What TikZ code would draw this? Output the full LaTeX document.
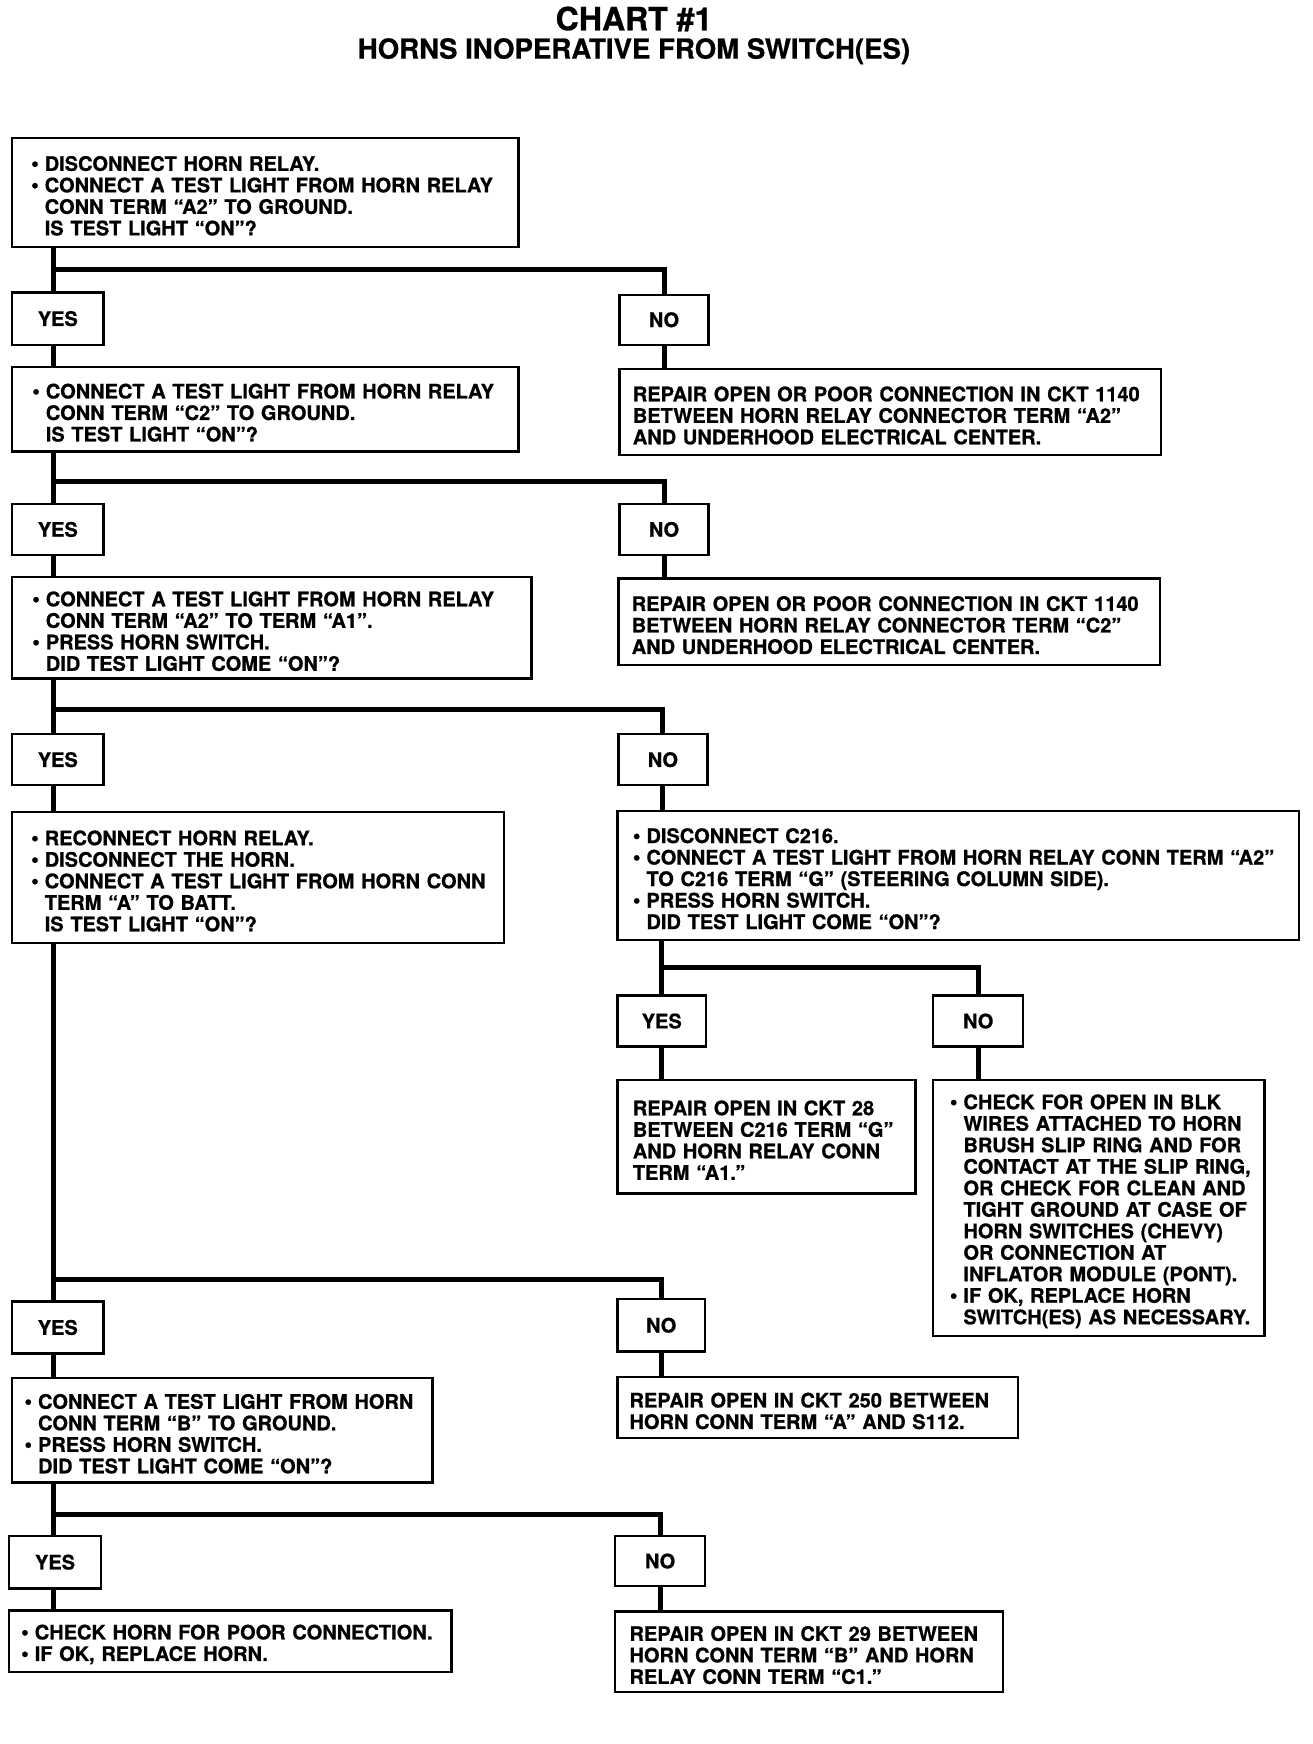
\documentclass[tikz,border=0pt]{standalone}
\usepackage{fontspec}
\setmainfont{TeX Gyre Heros}[BoldFeatures={FakeBold=0.8}]
\newcommand\upx{0.556}
\newlength\bind \setlength\bind{6.8pt}
\newcommand\bul[1]{\mbox{\makebox[\bind][l]{\raisebox{0pt}{\fontsize{11}{11}\selectfont •}}#1}}
\newcommand\ind[1]{\mbox{\hspace*{\bind}#1}}
\newcommand\lne[1]{\mbox{#1}}
\newcommand\bodyfont{\fontsize{10}{10.75}\selectfont\bfseries}
\newcommand\mkbox[7]{%
 \pgfmathsetlengthmacro\bxw{(#4-#2)*\upx pt}%
 \pgfmathsetlengthmacro\bxh{(#5-#3)*\upx pt}%
 \pgfmathsetlengthmacro\bxp{#6*\upx pt}%
 \pgfmathsetlengthmacro\bxt{(#4-#2-2*#6)*\upx pt}%
 \node[boxst, anchor=north west, minimum width=\bxw, minimum height=\bxh, inner xsep=\bxp, text width=\bxt] (#1) at (#2,#3) {\rule{0pt}{10.8pt}#7};}
\newcommand\mkyn[6]{%
 \pgfmathsetlengthmacro\bxw{(#4-#2)*\upx pt}%
 \pgfmathsetlengthmacro\bxh{(#5-#3)*\upx pt}%
 \node[ynst, anchor=north west, minimum width=\bxw, minimum height=\bxh] (#1) at (#2,#3) {#6};}
\begin{document}
\begin{tikzpicture}[x=0.556pt,y=-0.556pt,
  boxst/.style={draw, line width=1.2pt, outer sep=0pt, inner ysep=0pt, align=left, font=\bodyfont},
  ynst/.style={draw, line width=1.2pt, outer sep=0pt, inner sep=0pt, align=center, font=\bodyfont},
  conn/.style={line width=2.5pt},
  titlest/.style={inner sep=0pt, font=\fontsize{16}{16}\selectfont\bfseries},
  subst/.style={inner sep=0pt, font=\fontsize{13.8}{14}\selectfont\bfseries}]
\useasboundingbox (0,0) rectangle (1180,1568);
\fill[white] (0,0) rectangle (1180,1568);

\node[titlest] (title) at (570,17) {CHART \#1};
\node[subst] (subtitle) at (570,46) {HORNS INOPERATIVE FROM SWITCH(ES)};

% level 1
\mkbox{box1}{11}{124}{466}{222}{17}{\bul{DISCONNECT HORN RELAY.}\\\bul{CONNECT A TEST LIGHT FROM HORN RELAY}\\\ind{CONN TERM “A2” TO GROUND.}\\\ind{IS TEST LIGHT “ON”?}}
\mkyn{yes1}{11}{263}{93}{310}{YES}
\mkyn{no1}{557}{265}{637}{310}{NO}
\mkbox{box2}{11}{330}{466}{406}{18}{\bul{CONNECT A TEST LIGHT FROM HORN RELAY}\\\ind{CONN TERM “C2” TO GROUND.}\\\ind{IS TEST LIGHT “ON”?}}
\mkbox{r1}{557}{332}{1044}{409}{12}{\lne{REPAIR OPEN OR POOR CONNECTION IN CKT 1140}\\\lne{BETWEEN HORN RELAY CONNECTOR TERM “A2”}\\\lne{AND UNDERHOOD ELECTRICAL CENTER.}}

% level 2
\mkyn{yes2}{11}{453}{93}{499}{YES}
\mkyn{no2}{557}{453}{637}{499}{NO}
\mkbox{box3}{11}{519}{478}{610}{18}{\bul{CONNECT A TEST LIGHT FROM HORN RELAY}\\\ind{CONN TERM “A2” TO TERM “A1”.}\\\bul{PRESS HORN SWITCH.}\\\ind{DID TEST LIGHT COME “ON”?}}
\mkbox{r2}{556}{520}{1043}{598}{12}{\lne{REPAIR OPEN OR POOR CONNECTION IN CKT 1140}\\\lne{BETWEEN HORN RELAY CONNECTOR TERM “C2”}\\\lne{AND UNDERHOOD ELECTRICAL CENTER.}}

% level 3
\mkyn{yes3}{11}{660}{93}{706}{YES}
\mkyn{no3}{556}{660}{636}{706}{NO}
\mkbox{box4}{11}{730}{453}{848}{17}{\bul{RECONNECT HORN RELAY.}\\\bul{DISCONNECT THE HORN.}\\\bul{CONNECT A TEST LIGHT FROM HORN CONN}\\\ind{TERM “A” TO BATT.}\\\ind{IS TEST LIGHT “ON”?}}
\mkbox{box5}{555}{729}{1168}{845}{14}{\bul{DISCONNECT C216.}\\\bul{CONNECT A TEST LIGHT FROM HORN RELAY CONN TERM “A2”}\\\ind{TO C216 TERM “G” (STEERING COLUMN SIDE).}\\\bul{PRESS HORN SWITCH.}\\\ind{DID TEST LIGHT COME “ON”?}}

% level 4 (right)
\mkyn{yes4}{555}{895}{635}{941}{YES}
\mkyn{no4}{839}{895}{920}{941}{NO}
\mkbox{r4}{555}{971}{823}{1073}{14}{\lne{REPAIR OPEN IN CKT 28}\\\lne{BETWEEN C216 TERM “G”}\\\lne{AND HORN RELAY CONN}\\\lne{TERM “A1.”}}
\mkbox{r5}{839}{971}{1137}{1201}{15}{\bul{CHECK FOR OPEN IN BLK}\\\ind{WIRES ATTACHED TO HORN}\\\ind{BRUSH SLIP RING AND FOR}\\\ind{CONTACT AT THE SLIP RING,}\\\ind{OR CHECK FOR CLEAN AND}\\\ind{TIGHT GROUND AT CASE OF}\\\ind{HORN SWITCHES (CHEVY)}\\\ind{OR CONNECTION AT}\\\ind{INFLATOR MODULE (PONT).}\\\bul{IF OK, REPLACE HORN}\\\ind{SWITCH(ES) AS NECESSARY.}}

% level 5
\mkyn{yes5}{11}{1170}{93}{1217}{YES}
\mkyn{no5}{555}{1168}{634}{1215}{NO}
\mkbox{box6}{11}{1239}{389}{1333}{11}{\bul{CONNECT A TEST LIGHT FROM HORN}\\\ind{CONN TERM “B” TO GROUND.}\\\bul{PRESS HORN SWITCH.}\\\ind{DID TEST LIGHT COME “ON”?}}
\mkbox{r6}{555}{1238}{915}{1293}{11}{\lne{REPAIR OPEN IN CKT 250 BETWEEN}\\\lne{HORN CONN TERM “A” AND S112.}}

% level 6
\mkyn{yes6}{8}{1381}{91}{1428}{YES}
\mkyn{no6}{553}{1381}{634}{1426}{NO}
\mkbox{box7}{8}{1448}{406}{1503}{11}{\bul{CHECK HORN FOR POOR CONNECTION.}\\\bul{IF OK, REPLACE HORN.}}
\mkbox{r7}{553}{1449}{902}{1521}{13}{\lne{REPAIR OPEN IN CKT 29 BETWEEN}\\\lne{HORN CONN TERM “B” AND HORN}\\\lne{RELAY CONN TERM “C1.”}}

% connectors
\coordinate (j1) at (48,242);
\coordinate (j2) at (48,433);
\coordinate (j3) at (48,638);
\coordinate (j4) at (595,870);
\coordinate (j5) at (48,1150);
\coordinate (j6) at (48,1362);

\draw[conn] (box1.south -| j1) -- (yes1.north -| j1);
\draw[conn] (j1) -| (no1.north);
\draw[conn] (yes1.south -| j1) -- (box2.north -| j1);
\draw[conn] (no1.south) -- (r1.north -| no1.south);

\draw[conn] (box2.south -| j2) -- (yes2.north -| j2);
\draw[conn] (j2) -| (no2.north);
\draw[conn] (yes2.south -| j2) -- (box3.north -| j2);
\draw[conn] (no2.south) -- (r2.north -| no2.south);

\draw[conn] (box3.south -| j3) -- (yes3.north -| j3);
\draw[conn] (j3) -| (no3.north);
\draw[conn] (yes3.south -| j3) -- (box4.north -| j3);
\draw[conn] (no3.south) -- (box5.north -| no3.south);

\draw[conn] (box5.south -| j4) -- (yes4.north -| j4);
\draw[conn] (j4) -| (no4.north);
\draw[conn] (yes4.south -| j4) -- (r4.north -| j4);
\draw[conn] (no4.south) -- (r5.north -| no4.south);

\draw[conn] (box4.south -| j5) -- (yes5.north -| j5);
\draw[conn] (j5) -| (no5.north);
\draw[conn] (yes5.south -| j5) -- (box6.north -| j5);
\draw[conn] (no5.south) -- (r6.north -| no5.south);

\draw[conn] (box6.south -| j6) -- (yes6.north -| j6);
\draw[conn] (j6) -| (no6.north);
\draw[conn] (yes6.south -| j6) -- (box7.north -| j6);
\draw[conn] (no6.south) -- (r7.north -| no6.south);
\end{tikzpicture}
\end{document}
